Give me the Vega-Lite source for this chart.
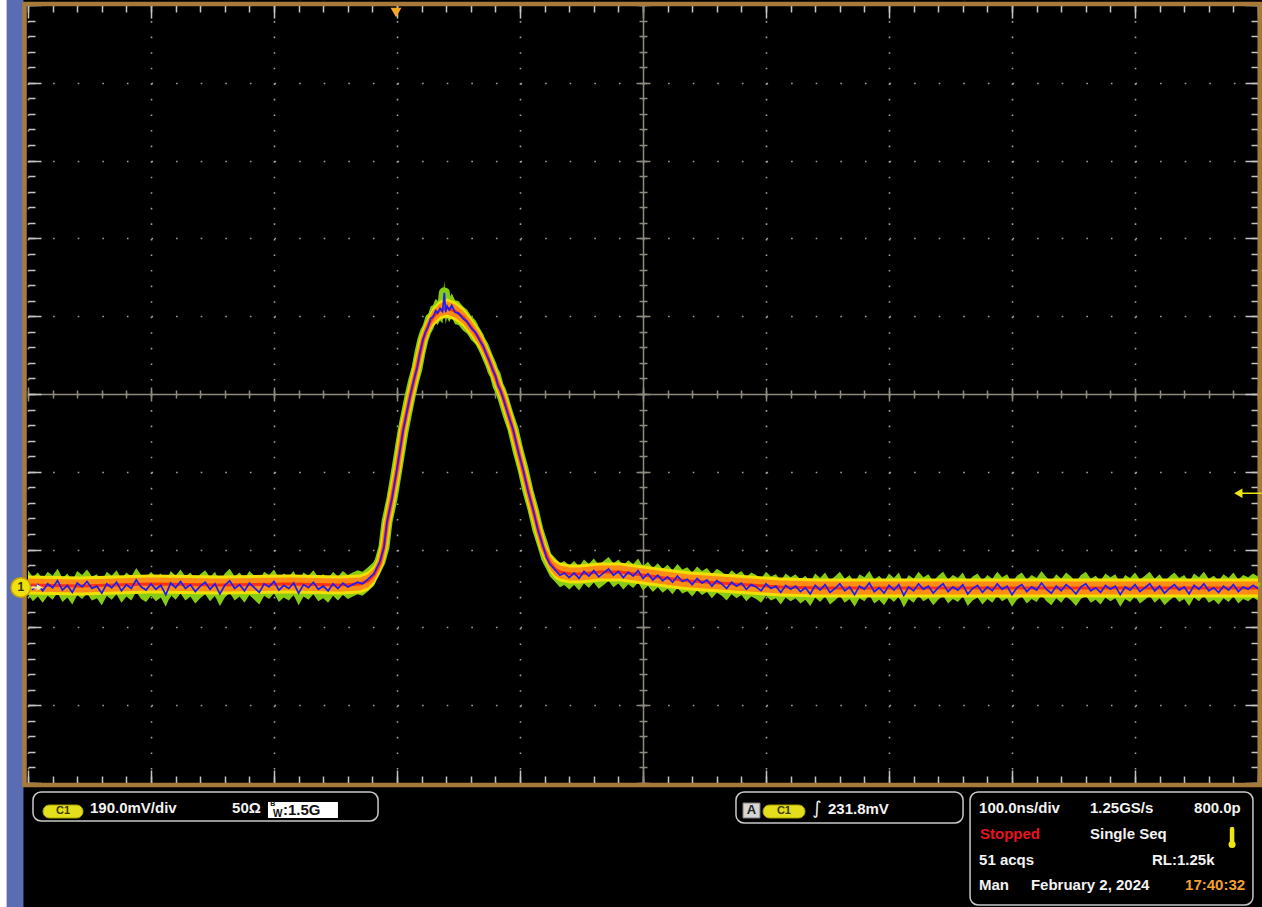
{
"$schema": "https://vega.github.io/schema/vega-lite/v6.json",
"width": 1230, "height": 778,
"autosize": {"type": "none"},
"padding": {"left": 28, "top": 5, "right": 4, "bottom": 124},
"background": "#000000",
"config": {"view": {"stroke": null, "fill": "#000000"}, "text": {"font": "Liberation Sans", "fontWeight": "bold", "fontSize": 15}},
"resolve": {"axis": {"x": "independent", "y": "independent"}},
"datasets": {
"mean": [
{"t":0,"v":-2.455},{"t":42.3,"v":-2.468},{"t":99.2,"v":-2.442},{"t":156.1,"v":-2.455},{"t":213,"v":-2.442},{"t":253.7,"v":-2.455},{"t":269.9,"v":-2.442},{"t":276.4,"v":-2.404},{"t":281.3,"v":-2.326},{"t":286.2,"v":-2.172},{"t":289.4,"v":-1.954},{"t":291.9,"v":-1.658},{"t":296,"v":-1.324},{"t":300,"v":-0.977},{"t":304.9,"v":-0.463},{"t":310.6,"v":-0.039},{"t":316.3,"v":0.347},{"t":321.1,"v":0.694},{"t":325.2,"v":0.874},{"t":329.3,"v":0.99},{"t":335,"v":1.08},{"t":340.7,"v":1.105},{"t":347.2,"v":1.067},{"t":353.7,"v":0.99},{"t":360.2,"v":0.861},{"t":367.5,"v":0.694},{"t":373.2,"v":0.501},{"t":378,"v":0.308},{"t":382.1,"v":0.129},{"t":386.2,"v":-0.039},{"t":390.2,"v":-0.244},{"t":394.3,"v":-0.463},{"t":398.4,"v":-0.72},{"t":402.4,"v":-0.977},{"t":406.5,"v":-1.234},{"t":410.6,"v":-1.491},{"t":414.6,"v":-1.735},{"t":418.7,"v":-1.967},{"t":424.4,"v":-2.172},{"t":428.5,"v":-2.249},{"t":432.5,"v":-2.288},{"t":440.7,"v":-2.314},{"t":448.8,"v":-2.314},{"t":465,"v":-2.288},{"t":481.3,"v":-2.288},{"t":500,"v":-2.326},{"t":517.9,"v":-2.365},{"t":538.2,"v":-2.404},{"t":562.6,"v":-2.429},{"t":587,"v":-2.455},{"t":611.4,"v":-2.481},{"t":643.9,"v":-2.494},{"t":709,"v":-2.494},{"t":790.2,"v":-2.494},{"t":871.5,"v":-2.494},{"t":952.8,"v":-2.494},{"t":1000,"v":-2.494}
],
"noisy": [
{"t":0,"v":-2.42},{"t":4,"v":-2.51},{"t":8,"v":-2.45},{"t":12,"v":-2.53},{"t":16,"v":-2.44},{"t":20,"v":-2.49},{"t":24,"v":-2.40},{"t":28,"v":-2.52},{"t":32,"v":-2.46},{"t":36,"v":-2.55},{"t":40,"v":-2.43},{"t":44,"v":-2.48},{"t":48,"v":-2.41},{"t":52,"v":-2.50},{"t":56,"v":-2.47},{"t":60,"v":-2.56},{"t":64,"v":-2.44},{"t":68,"v":-2.49},{"t":72,"v":-2.42},{"t":76,"v":-2.53},{"t":80,"v":-2.45},{"t":84,"v":-2.50},{"t":88,"v":-2.39},{"t":92,"v":-2.48},{"t":96,"v":-2.52},{"t":100,"v":-2.44},{"t":104,"v":-2.51},{"t":108,"v":-2.46},{"t":112,"v":-2.58},{"t":116,"v":-2.43},{"t":120,"v":-2.49},{"t":124,"v":-2.41},{"t":128,"v":-2.50},{"t":132,"v":-2.45},{"t":136,"v":-2.54},{"t":140,"v":-2.47},{"t":144,"v":-2.42},{"t":148,"v":-2.51},{"t":152,"v":-2.44},{"t":156,"v":-2.57},{"t":160,"v":-2.46},{"t":164,"v":-2.40},{"t":168,"v":-2.50},{"t":172,"v":-2.45},{"t":176,"v":-2.53},{"t":180,"v":-2.43},{"t":184,"v":-2.49},{"t":188,"v":-2.55},{"t":192,"v":-2.44},{"t":196,"v":-2.48},{"t":200,"v":-2.41},{"t":204,"v":-2.52},{"t":208,"v":-2.46},{"t":212,"v":-2.50},{"t":216,"v":-2.43},{"t":220,"v":-2.56},{"t":224,"v":-2.45},{"t":228,"v":-2.49},{"t":232,"v":-2.42},{"t":236,"v":-2.51},{"t":240,"v":-2.47},{"t":244,"v":-2.53},{"t":248,"v":-2.44},{"t":252,"v":-2.50},{"t":256,"v":-2.43},{"t":260,"v":-2.48},{"t":264,"v":-2.45},{"t":268,"v":-2.42},{"t":272,"v":-2.44},
{"t":276.4,"v":-2.38},{"t":281.3,"v":-2.31},{"t":286.2,"v":-2.15},{"t":289.4,"v":-1.97},{"t":291.9,"v":-1.64},{"t":296,"v":-1.34},{"t":300,"v":-0.96},{"t":304.9,"v":-0.48},{"t":307.5,"v":-0.27},{"t":310.6,"v":-0.03},{"t":313.5,"v":0.17},{"t":316.3,"v":0.33},{"t":318.5,"v":0.52},{"t":321.1,"v":0.70},{"t":323.2,"v":0.80},{"t":325.2,"v":0.86},{"t":327.3,"v":0.97},{"t":329.3,"v":0.99},{"t":331.5,"v":1.07},{"t":333,"v":1.04},{"t":335,"v":1.10},{"t":337,"v":1.06},{"t":338.5,"v":1.30},{"t":339.5,"v":1.05},{"t":340.7,"v":1.13},{"t":342.5,"v":1.08},{"t":344.5,"v":1.14},{"t":347.2,"v":1.05},{"t":350,"v":1.04},{"t":353.7,"v":0.97},{"t":357,"v":0.93},{"t":360.2,"v":0.85},{"t":364,"v":0.79},{"t":367.5,"v":0.68},{"t":370,"v":0.62},{"t":373.2,"v":0.49},{"t":376,"v":0.39},{"t":378,"v":0.30},{"t":380,"v":0.24},{"t":382.1,"v":0.11},{"t":384,"v":0.05},{"t":386.2,"v":-0.05},{"t":390.2,"v":-0.26},{"t":394.3,"v":-0.45},{"t":398.4,"v":-0.73},{"t":402.4,"v":-0.96},{"t":406.5,"v":-1.25},{"t":410.6,"v":-1.48},{"t":414.6,"v":-1.75},{"t":418.7,"v":-1.95},{"t":421.5,"v":-2.10},{"t":424.4,"v":-2.19},{"t":428.5,"v":-2.26},{"t":432.5,"v":-2.33},{"t":436,"v":-2.30},{"t":440,"v":-2.36},
{"t":444,"v":-2.30},{"t":448,"v":-2.37},{"t":452,"v":-2.28},{"t":456,"v":-2.34},{"t":460,"v":-2.27},{"t":464,"v":-2.35},{"t":468,"v":-2.30},{"t":472,"v":-2.25},{"t":476,"v":-2.33},{"t":480,"v":-2.28},{"t":484,"v":-2.36},{"t":488,"v":-2.29},{"t":492,"v":-2.34},{"t":496,"v":-2.27},{"t":500,"v":-2.37},{"t":504,"v":-2.31},{"t":508,"v":-2.39},{"t":512,"v":-2.33},{"t":516,"v":-2.40},{"t":520,"v":-2.35},{"t":524,"v":-2.42},{"t":528,"v":-2.34},{"t":532,"v":-2.41},{"t":536,"v":-2.38},{"t":540,"v":-2.45},{"t":544,"v":-2.37},{"t":548,"v":-2.43},{"t":552,"v":-2.39},{"t":556,"v":-2.47},{"t":560,"v":-2.40},{"t":564,"v":-2.44},{"t":568,"v":-2.50},{"t":572,"v":-2.42},{"t":576,"v":-2.47},{"t":580,"v":-2.43},{"t":584,"v":-2.51},{"t":588,"v":-2.45},{"t":592,"v":-2.48},{"t":596,"v":-2.53},{"t":600,"v":-2.44},{"t":604,"v":-2.50},{"t":608,"v":-2.47},{"t":612,"v":-2.55},{"t":616,"v":-2.46},{"t":620,"v":-2.51},
{"t":624,"v":-2.47},{"t":628,"v":-2.54},{"t":632,"v":-2.49},{"t":636,"v":-2.57},{"t":640,"v":-2.46},{"t":644,"v":-2.52},{"t":648,"v":-2.45},{"t":652,"v":-2.55},{"t":656,"v":-2.50},{"t":660,"v":-2.44},{"t":664,"v":-2.53},{"t":668,"v":-2.48},{"t":672,"v":-2.58},{"t":676,"v":-2.47},{"t":680,"v":-2.51},{"t":684,"v":-2.43},{"t":688,"v":-2.54},{"t":692,"v":-2.49},{"t":696,"v":-2.56},{"t":700,"v":-2.46},{"t":704,"v":-2.52},{"t":708,"v":-2.45},{"t":712,"v":-2.59},{"t":716,"v":-2.48},{"t":720,"v":-2.53},{"t":724,"v":-2.44},{"t":728,"v":-2.51},{"t":732,"v":-2.47},{"t":736,"v":-2.56},{"t":740,"v":-2.49},{"t":744,"v":-2.44},{"t":748,"v":-2.54},{"t":752,"v":-2.48},{"t":756,"v":-2.52},{"t":760,"v":-2.45},{"t":764,"v":-2.57},{"t":768,"v":-2.50},{"t":772,"v":-2.46},{"t":776,"v":-2.55},{"t":780,"v":-2.48},{"t":784,"v":-2.53},{"t":788,"v":-2.44},{"t":792,"v":-2.51},{"t":796,"v":-2.47},{"t":800,"v":-2.58},{"t":804,"v":-2.49},{"t":808,"v":-2.45},{"t":812,"v":-2.54},{"t":816,"v":-2.48},{"t":820,"v":-2.52},{"t":824,"v":-2.43},{"t":828,"v":-2.51},{"t":832,"v":-2.56},{"t":836,"v":-2.47},{"t":840,"v":-2.53},{"t":844,"v":-2.45},{"t":848,"v":-2.50},{"t":852,"v":-2.57},{"t":856,"v":-2.48},{"t":860,"v":-2.44},{"t":864,"v":-2.53},{"t":868,"v":-2.49},{"t":872,"v":-2.55},{"t":876,"v":-2.46},{"t":880,"v":-2.51},{"t":884,"v":-2.47},{"t":888,"v":-2.58},{"t":892,"v":-2.48},{"t":896,"v":-2.52},{"t":900,"v":-2.45},{"t":904,"v":-2.54},{"t":908,"v":-2.49},{"t":912,"v":-2.44},{"t":916,"v":-2.53},{"t":920,"v":-2.47},{"t":924,"v":-2.56},{"t":928,"v":-2.50},{"t":932,"v":-2.45},{"t":936,"v":-2.52},{"t":940,"v":-2.48},{"t":944,"v":-2.57},{"t":948,"v":-2.46},{"t":952,"v":-2.51},{"t":956,"v":-2.44},{"t":960,"v":-2.53},{"t":964,"v":-2.49},{"t":968,"v":-2.55},{"t":972,"v":-2.47},{"t":976,"v":-2.52},{"t":980,"v":-2.45},{"t":984,"v":-2.54},{"t":988,"v":-2.48},{"t":992,"v":-2.51},{"t":996,"v":-2.46},{"t":1000,"v":-2.50}
],
"labels": [
{"text":"190.0mV/div","t":50.4,"v":-5.317,"role":"white"},
{"text":"50Ω","t":165.9,"v":-5.317,"role":"white"},
{"text":"231.8mV","t":650.4,"v":-5.334,"role":"white"},
{"text":"100.0ns/div","t":773.2,"v":-5.325,"role":"white"},
{"text":"1.25GS/s","t":863.4,"v":-5.325,"role":"white"},
{"text":"800.0p","t":948.0,"v":-5.325,"role":"white"},
{"text":"Stopped","t":774.0,"v":-5.66,"role":"red"},
{"text":"Single Seq","t":863.4,"v":-5.66,"role":"white"},
{"text":"51 acqs","t":773.2,"v":-5.99,"role":"white"},
{"text":"RL:1.25k","t":913.8,"v":-5.99,"role":"white"},
{"text":"Man","t":773.2,"v":-6.311,"role":"white"},
{"text":"February 2, 2024","t":815.4,"v":-6.311,"role":"white"},
{"text":"17:40:32","t":940.7,"v":-6.311,"role":"orange"}
]
},
"layer": [
{"data":{"values":[{}]},"mark":{"type":"rect","color":"#ffffff"},"encoding":{"x":{"datum":-22.8,"type":"quantitative","axis":null},"x2":{"datum":-17.2},"y":{"datum":5.07,"type":"quantitative","axis":null},"y2":{"datum":-6.6}}},
{"data":{"values":[{}]},"mark":{"type":"rect","color":"#5a6cb2"},"encoding":{"x":{"datum":-17.2,"type":"quantitative","axis":null},"x2":{"datum":-3.7},"y":{"datum":5.07,"type":"quantitative","axis":null},"y2":{"datum":-6.6}}},
{"data":{"values":[{}]},"mark":{"type":"rect","filled":false,"stroke":"#a87a3a","strokeWidth":4.5},"encoding":{"x":{"datum":-2.85,"type":"quantitative","axis":null},"x2":{"datum":1001.4},"y":{"datum":5.012,"type":"quantitative","axis":null},"y2":{"datum":-5.026}}},
{"data":{"name":"noisy"},"mark":{"type":"area","color":"#86cc12","yOffset":-12,"y2Offset":12},
 "encoding":{"x":{"field":"t","type":"quantitative","scale":{"domain":[0,1000],"nice":false,"zero":false},"axis":{"orient":"bottom","values":[0,100,200,300,400,500,600,700,800,900,1000],"grid":true,"gridColor":"#a0a0a0","gridWidth":1.6,"gridDash":[1.6,13.96],"ticks":false,"domain":false,"labels":false,"title":null}},
 "y":{"field":"v","type":"quantitative","scale":{"domain":[-5,5],"nice":false,"zero":false},"axis":{"orient":"left","values":[-5,-4,-3,-2,-1,0,1,2,3,4,5],"grid":true,"gridColor":"#a0a0a0","gridWidth":1.6,"gridDash":[1.6,23],"ticks":false,"domain":false,"labels":false,"title":null}},
 "y2":{"field":"v"}}},
{"data":{"name":"noisy"},"mark":{"type":"line","color":"#86cc12","strokeWidth":11,"strokeJoin":"round"},
 "encoding":{"x":{"field":"t","type":"quantitative","axis":{"orient":"top","tickCount":50,"tickSize":-7,"tickColor":"#c4c4c4","tickWidth":1.5,"domain":false,"grid":false,"labels":false,"title":null}},
 "y":{"field":"v","type":"quantitative","axis":{"orient":"left","tickCount":50,"tickSize":-7,"tickColor":"#c4c4c4","tickWidth":1.5,"domain":false,"grid":false,"labels":false,"title":null}}}},
{"data":{"name":"mean"},"mark":{"type":"area","color":"#f0e000","yOffset":-9.5,"y2Offset":9.5},
 "encoding":{"x":{"field":"t","type":"quantitative","axis":{"orient":"top","values":[0,100,200,300,400,500,600,700,800,900,1000],"tickSize":-13,"tickColor":"#c4c4c4","tickWidth":1.5,"domain":false,"grid":false,"labels":false,"title":null}},
 "y":{"field":"v","type":"quantitative","axis":{"orient":"left","values":[-5,-4,-3,-2,-1,0,1,2,3,4,5],"tickSize":-13,"tickColor":"#c4c4c4","tickWidth":1.5,"domain":false,"grid":false,"labels":false,"title":null}},
 "y2":{"field":"v"}}},
{"data":{"name":"mean"},"mark":{"type":"line","color":"#f0e000","strokeWidth":8,"strokeJoin":"round"},
 "encoding":{"x":{"field":"t","type":"quantitative","axis":{"orient":"bottom","tickCount":50,"tickSize":-7,"tickColor":"#c4c4c4","tickWidth":1.5,"domain":false,"grid":false,"labels":false,"title":null}},
 "y":{"field":"v","type":"quantitative","axis":{"orient":"right","tickCount":50,"tickSize":-7,"tickColor":"#c4c4c4","tickWidth":1.5,"domain":false,"grid":false,"labels":false,"title":null}}}},
{"data":{"name":"mean"},"mark":{"type":"area","color":"#ff8c14","yOffset":-6.5,"y2Offset":6.5},
 "encoding":{"x":{"field":"t","type":"quantitative","axis":{"orient":"bottom","values":[0,100,200,300,400,500,600,700,800,900,1000],"tickSize":-13,"tickColor":"#c4c4c4","tickWidth":1.5,"domain":false,"grid":false,"labels":false,"title":null}},
 "y":{"field":"v","type":"quantitative","axis":{"orient":"right","values":[-5,-4,-3,-2,-1,0,1,2,3,4,5],"tickSize":-13,"tickColor":"#c4c4c4","tickWidth":1.5,"domain":false,"grid":false,"labels":false,"title":null}},
 "y2":{"field":"v"}}},
{"data":{"name":"mean"},"mark":{"type":"line","color":"#ff8c14","strokeWidth":5.5,"strokeJoin":"round"},
 "encoding":{"x":{"field":"t","type":"quantitative","axis":{"orient":"top","offset":-389,"tickCount":50,"tickSize":4,"tickColor":"#8e8a7e","tickWidth":1.5,"domain":true,"domainColor":"#8e8a7e","domainWidth":1.5,"grid":false,"labels":false,"title":null}},
 "y":{"field":"v","type":"quantitative","axis":{"orient":"left","offset":-615,"tickCount":50,"tickSize":4,"tickColor":"#8e8a7e","tickWidth":1.5,"domain":true,"domainColor":"#8e8a7e","domainWidth":1.5,"grid":false,"labels":false,"title":null}}}},
{"data":{"name":"mean"},"mark":{"type":"line","color":"#ff3010","strokeWidth":3},
 "encoding":{"x":{"field":"t","type":"quantitative","axis":{"orient":"bottom","offset":-389,"tickCount":50,"tickSize":4,"tickColor":"#8e8a7e","tickWidth":1.5,"domain":false,"grid":false,"labels":false,"title":null}},
 "y":{"field":"v","type":"quantitative","axis":{"orient":"right","offset":-615,"tickCount":50,"tickSize":4,"tickColor":"#8e8a7e","tickWidth":1.5,"domain":false,"grid":false,"labels":false,"title":null}}}},
{"data":{"name":"noisy"},"mark":{"type":"line","color":"#1c1cf5","strokeWidth":1.7},
 "encoding":{"x":{"field":"t","type":"quantitative","axis":{"orient":"top","offset":-389,"values":[0,100,200,300,400,500,600,700,800,900,1000],"tickSize":7,"tickColor":"#8e8a7e","tickWidth":1.5,"domain":false,"grid":false,"labels":false,"title":null}},
 "y":{"field":"v","type":"quantitative","axis":{"orient":"left","offset":-615,"values":[-5,-4,-3,-2,-1,0,1,2,3,4,5],"tickSize":7,"tickColor":"#8e8a7e","tickWidth":1.5,"domain":false,"grid":false,"labels":false,"title":null}}}},
{"data":{"values":[{}]},"mark":{"type":"rect","filled":false,"stroke":"#c8c8c8","strokeWidth":1.5,"cornerRadius":8},"encoding":{"x":{"datum":4.07,"type":"quantitative","axis":null},"x2":{"datum":284.6},"y":{"datum":-5.116,"type":"quantitative","axis":null},"y2":{"datum":-5.488}}},
{"data":{"values":[{}]},"mark":{"type":"rect","filled":false,"stroke":"#c8c8c8","strokeWidth":1.5,"cornerRadius":8},"encoding":{"x":{"datum":575.6,"type":"quantitative","axis":null},"x2":{"datum":760.2},"y":{"datum":-5.116,"type":"quantitative","axis":null},"y2":{"datum":-5.514}}},
{"data":{"values":[{}]},"mark":{"type":"rect","filled":false,"stroke":"#c8c8c8","strokeWidth":1.5,"cornerRadius":8},"encoding":{"x":{"datum":765.9,"type":"quantitative","axis":null},"x2":{"datum":995.9},"y":{"datum":-5.116,"type":"quantitative","axis":null},"y2":{"datum":-6.568}}},
{"data":{"values":[{}]},"mark":{"type":"rect","color":"#e3df1c","stroke":"#a8a400","strokeWidth":1,"cornerRadius":6.5},"encoding":{"x":{"datum":12.2,"type":"quantitative","axis":null},"x2":{"datum":44.7},"y":{"datum":-5.283,"type":"quantitative","axis":null},"y2":{"datum":-5.45}}},
{"data":{"values":[{}]},"mark":{"type":"rect","color":"#e3df1c","stroke":"#a8a400","strokeWidth":1,"cornerRadius":6.5},"encoding":{"x":{"datum":597.6,"type":"quantitative","axis":null},"x2":{"datum":631.7},"y":{"datum":-5.283,"type":"quantitative","axis":null},"y2":{"datum":-5.45}}},
{"data":{"values":[{}]},"mark":{"type":"rect","color":"#d6d6d6","stroke":"#7a7a7a","strokeWidth":1},"encoding":{"x":{"datum":581.3,"type":"quantitative","axis":null},"x2":{"datum":595.1},"y":{"datum":-5.257,"type":"quantitative","axis":null},"y2":{"datum":-5.45}}},
{"data":{"values":[{}]},"mark":{"type":"rect","color":"#ffffff"},"encoding":{"x":{"datum":195.1,"type":"quantitative","axis":null},"x2":{"datum":252.0},"y":{"datum":-5.244,"type":"quantitative","axis":null},"y2":{"datum":-5.45}}},
{"data":{"name":"labels"},"mark":{"type":"text","align":"left","baseline":"middle","font":"Liberation Sans","fontWeight":"bold","fontSize":15},
 "encoding":{"x":{"field":"t","type":"quantitative","axis":{"orient":"bottom","offset":-389,"values":[0,100,200,300,400,500,600,700,800,900,1000],"tickSize":7,"tickColor":"#8e8a7e","tickWidth":1.5,"domain":false,"grid":false,"labels":false,"title":null}},
 "y":{"field":"v","type":"quantitative","axis":{"orient":"right","offset":-615,"values":[-5,-4,-3,-2,-1,0,1,2,3,4,5],"tickSize":7,"tickColor":"#8e8a7e","tickWidth":1.5,"domain":false,"grid":false,"labels":false,"title":null}},
 "text":{"field":"text","type":"nominal"},
 "color":{"field":"role","type":"nominal","scale":{"domain":["white","red","orange"],"range":["#f2f2f2","#e8141e","#f0a030"]},"legend":null}}},
{"data":{"values":[{}]},"mark":{"type":"text","text":"C1","align":"center","baseline":"middle","fontSize":11,"fontWeight":"bold","color":"#3a3800"},"encoding":{"x":{"datum":28.5,"type":"quantitative","axis":null},"y":{"datum":-5.366,"type":"quantitative","axis":null}}},
{"data":{"values":[{}]},"mark":{"type":"text","text":"C1","align":"center","baseline":"middle","fontSize":11,"fontWeight":"bold","color":"#3a3800"},"encoding":{"x":{"datum":614.6,"type":"quantitative","axis":null},"y":{"datum":-5.366,"type":"quantitative","axis":null}}},
{"data":{"values":[{}]},"mark":{"type":"text","text":"A","align":"center","baseline":"middle","fontSize":13,"fontWeight":"bold","color":"#222222"},"encoding":{"x":{"datum":588.2,"type":"quantitative","axis":null},"y":{"datum":-5.35,"type":"quantitative","axis":null}}},
{"data":{"values":[{}]},"mark":{"type":"text","text":"∫","align":"center","baseline":"middle","font":"DejaVu Sans","fontSize":18,"fontWeight":"normal","color":"#f2f2f2"},"encoding":{"x":{"datum":641.5,"type":"quantitative","axis":null},"y":{"datum":-5.334,"type":"quantitative","axis":null}}},
{"data":{"values":[{}]},"mark":{"type":"text","text":"B","align":"left","baseline":"middle","fontSize":7,"fontWeight":"bold","color":"#111111"},"encoding":{"x":{"datum":197.0,"type":"quantitative","axis":null},"y":{"datum":-5.27,"type":"quantitative","axis":null}}},
{"data":{"values":[{}]},"mark":{"type":"text","text":"W","align":"left","baseline":"middle","fontSize":10,"fontWeight":"bold","color":"#111111"},"encoding":{"x":{"datum":199.2,"type":"quantitative","axis":null},"y":{"datum":-5.40,"type":"quantitative","axis":null}}},
{"data":{"values":[{}]},"mark":{"type":"text","text":":1.5G","align":"left","baseline":"middle","fontSize":15,"fontWeight":"bold","color":"#111111"},"encoding":{"x":{"datum":207.3,"type":"quantitative","axis":null},"y":{"datum":-5.347,"type":"quantitative","axis":null}}},
{"data":{"values":[{}]},"mark":{"type":"point","shape":"triangle-down","filled":true,"size":120,"color":"#f5a623","opacity":1},"encoding":{"x":{"datum":299.2,"type":"quantitative","axis":null},"y":{"datum":4.904,"type":"quantitative","axis":null}}},
{"data":{"values":[{}]},"mark":{"type":"rule","color":"#f0e614","strokeWidth":1.5},"encoding":{"x":{"datum":986,"type":"quantitative","axis":null},"x2":{"datum":1003},"y":{"datum":-1.276,"type":"quantitative","axis":null}}},
{"data":{"values":[{}]},"mark":{"type":"point","shape":"triangle-left","filled":true,"size":90,"color":"#f0e614","opacity":1},"encoding":{"x":{"datum":984,"type":"quantitative","axis":null},"y":{"datum":-1.276,"type":"quantitative","axis":null}}},
{"data":{"values":[{}]},"mark":{"type":"rule","color":"#f5f0a0","strokeWidth":2},"encoding":{"x":{"datum":-0.8,"type":"quantitative","axis":null},"x2":{"datum":8},"y":{"datum":-2.487,"type":"quantitative","axis":null}}},
{"data":{"values":[{}]},"mark":{"type":"point","shape":"triangle-right","filled":true,"size":45,"color":"#f5f0a0","opacity":1},"encoding":{"x":{"datum":9.5,"type":"quantitative","axis":null},"y":{"datum":-2.487,"type":"quantitative","axis":null}}},
{"data":{"values":[{}]},"mark":{"type":"point","shape":"circle","filled":true,"size":380,"fill":"#f0e010","stroke":"#c8a800","strokeWidth":1.5,"opacity":1},"encoding":{"x":{"datum":-5.85,"type":"quantitative","axis":null},"y":{"datum":-2.487,"type":"quantitative","axis":null}}},
{"data":{"values":[{}]},"mark":{"type":"text","text":"1","align":"center","baseline":"middle","fontSize":12,"fontWeight":"bold","color":"#333300"},"encoding":{"x":{"datum":-5.85,"type":"quantitative","axis":null},"y":{"datum":-2.487,"type":"quantitative","axis":null}}},
{"data":{"values":[{}]},"mark":{"type":"rule","color":"#f0e614","strokeWidth":4.5,"strokeCap":"round"},"encoding":{"x":{"datum":978.9,"type":"quantitative","axis":null},"y":{"datum":-5.59,"type":"quantitative","axis":null},"y2":{"datum":-5.76}}},
{"data":{"values":[{}]},"mark":{"type":"point","shape":"circle","filled":true,"size":50,"color":"#f0e614","opacity":1},"encoding":{"x":{"datum":978.9,"type":"quantitative","axis":null},"y":{"datum":-5.79,"type":"quantitative","axis":null}}}
]
}
